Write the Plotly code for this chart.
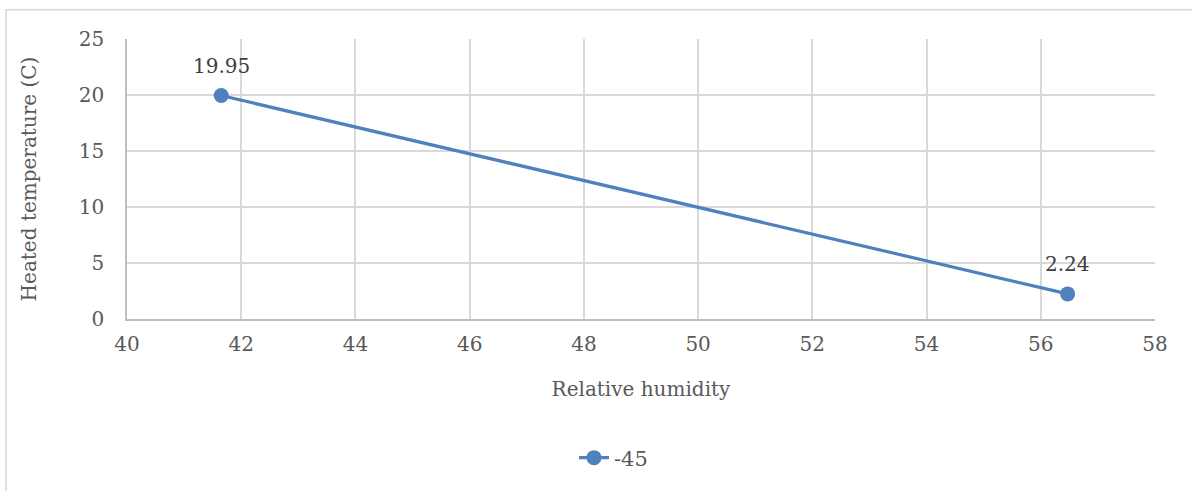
import plotly.graph_objects as go

humidity = [41.65, 56.47]
temperature = [19.95, 2.24]
labels = ["19.95", "2.24"]
series_name = "-45"

FONT = "DejaVu Serif"
GRAY = "#595959"
BLUE = "#4F81BD"

fig = go.Figure()
fig.add_trace(go.Scatter(
    x=humidity, y=temperature, name=series_name,
    mode="lines+markers",
    line=dict(color=BLUE, width=3.2),
    marker=dict(color=BLUE, size=15),
    cliponaxis=False,
))

annotations = [
    dict(x=xv, y=yv, xref="x", yref="y", text=t, showarrow=False,
         yshift=30, font=dict(family=FONT, size=20, color="#404040"))
    for xv, yv, t in zip(humidity, temperature, labels)
]

fig.update_layout(
    width=1192, height=491,
    margin=dict(l=127, r=37, t=39, b=170),
    paper_bgcolor="white", plot_bgcolor="white",
    font=dict(family=FONT, size=20, color=GRAY),
    showlegend=True,
    annotations=annotations,
    legend=dict(orientation="h", x=(574 - 127) / 1028, xanchor="left", y=(321 - 461) / 282, yanchor="middle",
                font=dict(family=FONT, size=21, color=GRAY), bgcolor="rgba(0,0,0,0)"),
    xaxis=dict(range=[40, 58], dtick=2, showgrid=True, gridcolor="#d9d9d9", gridwidth=1.5,
               showline=True, linecolor="#bfbfbf", linewidth=1.5, zeroline=False,
               ticks="", ticklabelstandoff=6,
               title=dict(text="Relative humidity", font=dict(family=FONT, size=20, color=GRAY), standoff=27),
               tickfont=dict(family=FONT, size=20, color=GRAY)),
    yaxis=dict(range=[0, 25], dtick=5, showgrid=True, gridcolor="#d9d9d9", gridwidth=1.5,
               showline=True, linecolor="#bfbfbf", linewidth=1.5, zeroline=False,
               ticks="", ticklabelstandoff=17,
               title=dict(text="Heated temperature (C)", font=dict(family=FONT, size=20, color=GRAY), standoff=37),
               tickfont=dict(family=FONT, size=20, color=GRAY)),
    shapes=[dict(type="rect", xref="paper", yref="paper",
                 x0=(6 - 127) / 1028, x1=1.3, y0=-1.0, y1=(321 - 9.5) / 282,
                 line=dict(color="#d9d9d9", width=1.5), layer="below")],
)

fig.write_html("out.html", config={"displayModeBar": False},
               post_script="document.body.style.margin='0';")
